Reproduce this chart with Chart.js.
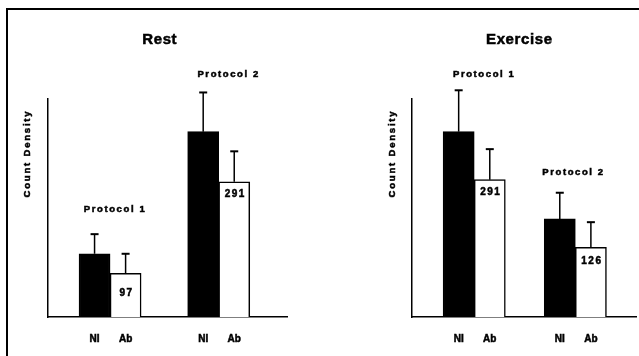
<!DOCTYPE html>
<html>
<head>
<meta charset="utf-8">
<script src="https://cdn.jsdelivr.net/npm/chart.js@4"></script>
<style>
html, body { margin: 0; padding: 0; background: #fff; overflow: hidden; }
#marco { position: absolute; left: 6px; top: 8px; width: 633px; height: 348px; border-left: 2px solid #000; border-top: 2px solid #000; }
canvas { position: absolute; top: 0; }
#reposo { left: 0; }
#ejercicio { left: 320px; }
</style>
</head>
<body>
<div id="marco"></div>
<canvas id="reposo"></canvas>
<canvas id="ejercicio"></canvas>
<script>
// Categorias (bajo cada barra)
const categorias = ["NI", "Ab", "NI", "Ab"];
const protocolos = ["Protocol 1", "Protocol 2"];

// Rest
const reposoValores = [29, 20, 85, 62];
const reposoError = [9, 9, 18, 14];
const reposoN = ["", "97", "", "291"];

// Exercise
const ejercicioValores = [85, 63, 45, 32];
const ejercicioError = [19, 14, 12, 11.5];
const ejercicioN = ["", "291", "", "126"];

const fuente = "'Liberation Sans', Arial, sans-serif";
const ALTO = 361; // un poco mas que la ventana, el sobrante queda fuera

function textoGrueso(ctx, texto, x, y) {
    ctx.strokeText(texto, x, y);
    ctx.fillText(texto, x, y);
}

const pluginExtras = {
    id: "extras",
    afterDatasetsDraw(chart, args, opts) {
        const ctx = chart.ctx;
        const x = chart.scales.x;
        const y = chart.scales.y;
        const meta = chart.getDatasetMeta(0);
        const ds = chart.data.datasets[0];

        ctx.save();
        ctx.strokeStyle = "#000";
        // barras de error (solo hacia arriba)
        meta.data.forEach((barra, i) => {
            const v = ds.data[i].y;
            const yTop = y.getPixelForValue(v + opts.errores[i]);
            ctx.lineWidth = 1.5;
            ctx.beginPath();
            ctx.moveTo(barra.x, barra.y);
            ctx.lineTo(barra.x, yTop);
            ctx.stroke();
            ctx.lineWidth = 2;
            ctx.beginPath();
            ctx.moveTo(barra.x - 4, yTop);
            ctx.lineTo(barra.x + 4, yTop);
            ctx.stroke();
        });

        ctx.fillStyle = "#000";
        ctx.lineWidth = 0.5;
        ctx.textAlign = "center";
        ctx.textBaseline = "middle";

        // numeros dentro de las barras blancas
        ctx.font = "bold 10px " + fuente;
        ctx.letterSpacing = "1.5px";
        meta.data.forEach((barra, i) => {
            if (opts.n[i]) textoGrueso(ctx, opts.n[i], barra.x + 1, barra.y + opts.desplazN[i]);
        });

        // etiquetas de protocolo
        ctx.font = "bold 9.5px " + fuente;
        ctx.letterSpacing = "1.6px";
        opts.notas.forEach(nota => {
            textoGrueso(ctx, nota.texto, x.getPixelForValue(nota.x), y.getPixelForValue(nota.y));
        });

        // titulo del eje y
        ctx.save();
        ctx.translate(chart.chartArea.left - opts.ejeY.sep, y.getPixelForValue(opts.ejeY.y));
        ctx.rotate(-Math.PI / 2);
        ctx.font = "bold 9.5px " + fuente;
        ctx.letterSpacing = "1.8px";
        textoGrueso(ctx, "Count Density", 0, 0);
        ctx.restore();

        // titulo del panel
        ctx.font = "bold 15px " + fuente;
        ctx.letterSpacing = "0.6px";
        textoGrueso(ctx, opts.titulo.texto, x.getPixelForValue(opts.titulo.x), y.getPixelForValue(opts.titulo.y));
        ctx.restore();
    }
};

function crearPanel(id, ancho, cfg) {
    const canvas = document.getElementById(id);
    canvas.width = ancho;
    canvas.height = ALTO;
    canvas.style.width = ancho + "px";
    canvas.style.height = ALTO + "px";

    // posiciones de las barras: dos grupos separados por un hueco
    const posiciones = categorias.map((c, i) => i + 1.5 + (i >= 2 ? cfg.hueco : 0));

    new Chart(canvas, {
        type: "bar",
        data: {
            datasets: [{
                data: cfg.valores.map((v, i) => ({ x: posiciones[i], y: v })),
                backgroundColor: categorias.map(c => c === "NI" ? "#000" : "#fff"),
                borderColor: "#000",
                borderWidth: 1.5,
                barPercentage: 1,
                categoryPercentage: 1
            }]
        },
        options: {
            responsive: false,
            animation: false,
            layout: { padding: cfg.padding },
            plugins: {
                legend: { display: false },
                tooltip: { enabled: false },
                extras: {
                    errores: cfg.errores,
                    n: cfg.n,
                    desplazN: cfg.desplazN,
                    notas: cfg.notas,
                    titulo: cfg.titulo,
                    ejeY: cfg.ejeY
                }
            },
            scales: {
                x: {
                    type: "linear",
                    offset: false,
                    min: 0,
                    max: cfg.xMax,
                    grid: { display: false, drawTicks: false },
                    border: { color: "#000", width: 1.5 },
                    afterBuildTicks: scale => {
                        scale.ticks = posiciones.map(p => ({ value: p }));
                    },
                    ticks: {
                        padding: 16,
                        color: "#000",
                        textStrokeColor: "#000",
                        textStrokeWidth: 0.5,
                        font: { family: fuente, size: 10, weight: "bold" },
                        callback: (value, index) => categorias[index]
                    }
                },
                y: {
                    min: 0,
                    max: 100,
                    grid: { display: false, drawTicks: false },
                    border: { color: "#000", width: 1.5 },
                    ticks: { display: false }
                }
            }
        },
        plugins: [pluginExtras]
    });
}

crearPanel("reposo", 320, {
    valores: reposoValores,
    errores: reposoError,
    n: reposoN,
    desplazN: [0, 20, 0, 12],
    hueco: 1.5,
    xMax: 7.7,
    padding: { left: 48, top: 99, right: 33, bottom: 0 },
    ejeY: { sep: 21, y: 75 },
    notas: [
        { texto: protocolos[0], x: 2.16, y: 49.5 },
        { texto: protocolos[1], x: 5.82, y: 111.5 }
    ],
    titulo: { texto: "Rest", x: 3.6, y: 127 }
});

crearPanel("ejercicio", 319, {
    valores: ejercicioValores,
    errores: ejercicioError,
    n: ejercicioN,
    desplazN: [0, 13, 0, 14],
    hueco: 1.25,
    xMax: 7.2,
    padding: { left: 92, top: 99, right: 3, bottom: 0 },
    ejeY: { sep: 20, y: 75 },
    notas: [
        { texto: protocolos[0], x: 2.32, y: 111.5 },
        { texto: protocolos[1], x: 5.19, y: 66.5 }
    ],
    titulo: { texto: "Exercise", x: 3.45, y: 127 }
});
</script>
</body>
</html>
